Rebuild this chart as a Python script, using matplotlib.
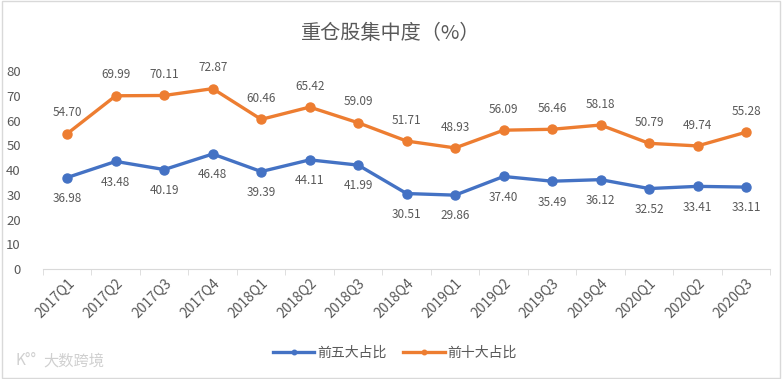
import matplotlib.pyplot as plt
from matplotlib.patches import Rectangle

plt.rcParams['font.family'] = ['Noto Sans CJK SC', 'DejaVu Sans']

quarters = ['2017Q1', '2017Q2', '2017Q3', '2017Q4', '2018Q1', '2018Q2', '2018Q3', '2018Q4',
            '2019Q1', '2019Q2', '2019Q3', '2019Q4', '2020Q1', '2020Q2', '2020Q3']
top5 = [36.98, 43.48, 40.19, 46.48, 39.39, 44.11, 41.99, 30.51,
        29.86, 37.40, 35.49, 36.12, 32.52, 33.41, 33.11]
top10 = [54.70, 69.99, 70.11, 72.87, 60.46, 65.42, 59.09, 51.71,
         48.93, 56.09, 56.46, 58.18, 50.79, 49.74, 55.28]

blue = '#4472C4'
orange = '#ED7D31'
txt = '#595959'

fig = plt.figure(figsize=(7.82, 3.79), dpi=100)
ax = fig.add_axes([0.055, 0.29, 0.93, 0.5227])

x = list(range(len(quarters)))
ax.plot(x, top5, color=blue, lw=2.4, marker='o', ms=6.5, label='前五大占比')
ax.plot(x, top10, color=orange, lw=2.4, marker='o', ms=6.5, label='前十大占比')

for i in x:
    ax.annotate(f'{top10[i]:.2f}', (i, top10[i]), xytext=(0, 15), textcoords='offset points',
                ha='center', va='center', fontsize=8.5, color=txt)
    ax.annotate(f'{top5[i]:.2f}', (i, top5[i]), xytext=(0, -15), textcoords='offset points',
                ha='center', va='center', fontsize=8.5, color=txt)

ax.set_xlim(-0.5, len(quarters) - 0.5)
ax.set_ylim(0, 80)
ax.set_yticks(range(0, 81, 10))
ax.set_xticks(x)
ax.set_xticklabels(quarters, rotation=45, ha='right', rotation_mode='anchor', fontsize=10, color=txt)
ax.tick_params(axis='x', length=0, pad=5)
ax.set_xticks([i + 0.5 for i in range(-1, len(quarters))], minor=True)
ax.tick_params(axis='x', which='minor', length=4, color='#D9D9D9')
ax.tick_params(axis='y', length=0, labelsize=9.5, labelcolor=txt, pad=16)
for s in ['top', 'right', 'left']:
    ax.spines[s].set_visible(False)
ax.spines['bottom'].set_color('#D9D9D9')

fig.text(0.5, 0.912, '重仓股集中度（%）', ha='center', va='center', fontsize=14.5, color=txt)

fig.legend(loc='center', bbox_to_anchor=(0.505, 0.068), ncol=2, frameon=False,
           fontsize=10, labelcolor=txt, handlelength=3.0, columnspacing=1.2, handletextpad=0.2,
           markerscale=0.5)

fig.text(0.055, 0.048, '大数跨境', ha='left', va='center', fontsize=11, color='#D0D0D0')
fig.text(0.02, 0.048, 'K°°', ha='left', va='center', fontsize=11, color='#D0D0D0')

fig.patches.append(Rectangle((0.003, 0.003), 0.994, 0.994, transform=fig.transFigure,
                             fill=False, edgecolor='#D9D9D9', lw=1))

plt.savefig('out.png', dpi=100)
